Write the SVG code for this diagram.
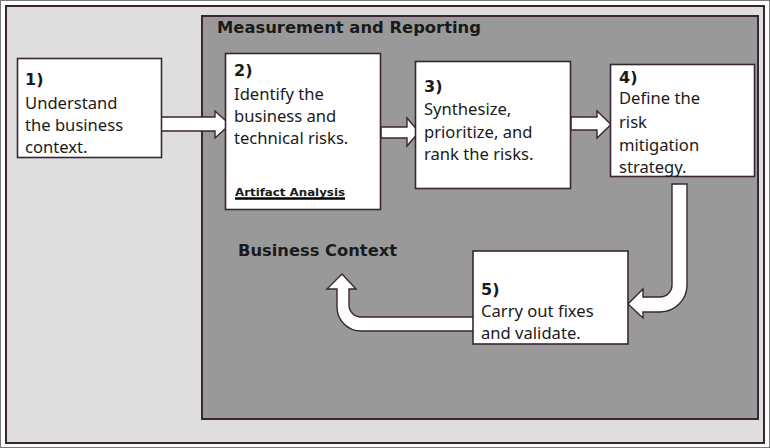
<svg xmlns="http://www.w3.org/2000/svg" width="770" height="448" viewBox="0 0 770 448">
<style>
.box{fill:#ffffff;stroke:#3b2535;stroke-width:1.6}
.arr{fill:#ffffff;stroke:#3b2535;stroke-width:1.4;stroke-linejoin:miter}
.t{font-family:"Noto Sans","DejaVu Sans",sans-serif;font-size:16.6px;fill:#1a1a1a}
.b{font-family:"DejaVu Sans","Noto Sans",sans-serif;font-weight:bold;font-size:16px;fill:#1a1a1a}
.s{font-family:"DejaVu Sans","Noto Sans",sans-serif;font-weight:bold;font-size:11px;fill:#1a1a1a}
</style>
<rect x="0" y="0" width="770" height="448" fill="#ffffff"/>
<rect x="0.5" y="0.5" width="769" height="447" fill="none" stroke="#7a7a7a" stroke-width="1"/>
<rect id="outer" x="6" y="6" width="758" height="437" fill="#dedede" stroke="#3b2535" stroke-width="2"/>
<g id="measurement">
<rect x="202" y="16" width="556" height="403" fill="#999999" stroke="#3b2535" stroke-width="2"/>
<text class="b" x="217" y="33" textLength="264" lengthAdjust="spacingAndGlyphs">Measurement and Reporting</text>
</g>
<g id="business-context">
<text class="b" x="238" y="256" textLength="159" lengthAdjust="spacingAndGlyphs">Business Context</text>
</g>
<g id="connectors">
<path class="arr" d="M161 117 L215 117 L215 111 L230 124.5 L215 138 L215 131 L161 131 Z"/>
<path class="arr" d="M381 127 L407 127 L407 118 L419 132 L407 146 L407 138 L381 138 Z"/>
<path class="arr" d="M571 117 L597 117 L597 111 L611 124.5 L597 138 L597 130 L571 130 Z"/>
<path class="arr" d="M672 184 L687 184 L687 285 A27 27 0 0 1 660 312 L643 312 L643 318 L628 304 L643 289 L643 297 L660 297 A12 12 0 0 0 672 285 Z"/>
<path class="arr" d="M474 317 L361 317 A12 12 0 0 1 349 305 L349 289 L356 289 L342 274 L327 289 L337 289 L337 307 A24 24 0 0 0 361 331 L474 331 Z"/>
</g>
<g id="step1">
<rect class="box" x="17.5" y="58.5" width="144" height="99"/>
<text class="b" x="25" y="85">1)</text>
<text class="t" x="25" y="109">Understand</text>
<text class="t" x="25" y="131">the business</text>
<text class="t" x="25" y="153">context.</text>
</g>
<g id="step2">
<rect class="box" x="225.5" y="53.5" width="155" height="156"/>
<text class="b" x="234" y="76">2)</text>
<text class="t" x="234" y="100">Identify the</text>
<text class="t" x="234" y="122">business and</text>
<text class="t" x="234" y="144">technical risks.</text>
<text class="s" x="235" y="196" textLength="110" lengthAdjust="spacingAndGlyphs">Artifact Analysis</text>
<line x1="235" y1="198.5" x2="345" y2="198.5" stroke="#000000" stroke-width="2.5"/>
</g>
<g id="step3">
<rect class="box" x="415.5" y="61.5" width="155" height="127"/>
<text class="b" x="424" y="92">3)</text>
<text class="t" x="424" y="115">Synthesize,</text>
<text class="t" x="424" y="138">prioritize, and</text>
<text class="t" x="424" y="160">rank the risks.</text>
</g>
<g id="step4">
<rect class="box" x="610.5" y="64.5" width="144" height="112"/>
<text class="b" x="619" y="83">4)</text>
<text class="t" x="619" y="104">Define the</text>
<text class="t" x="619" y="128">risk</text>
<text class="t" x="619" y="151">mitigation</text>
<text class="t" x="619" y="173">strategy.</text>
</g>
<g id="step5">
<rect class="box" x="473" y="251" width="155" height="93"/>
<text class="b" x="481" y="295">5)</text>
<text class="t" x="481" y="317">Carry out fixes</text>
<text class="t" x="481" y="339">and validate.</text>
</g>
</svg>
